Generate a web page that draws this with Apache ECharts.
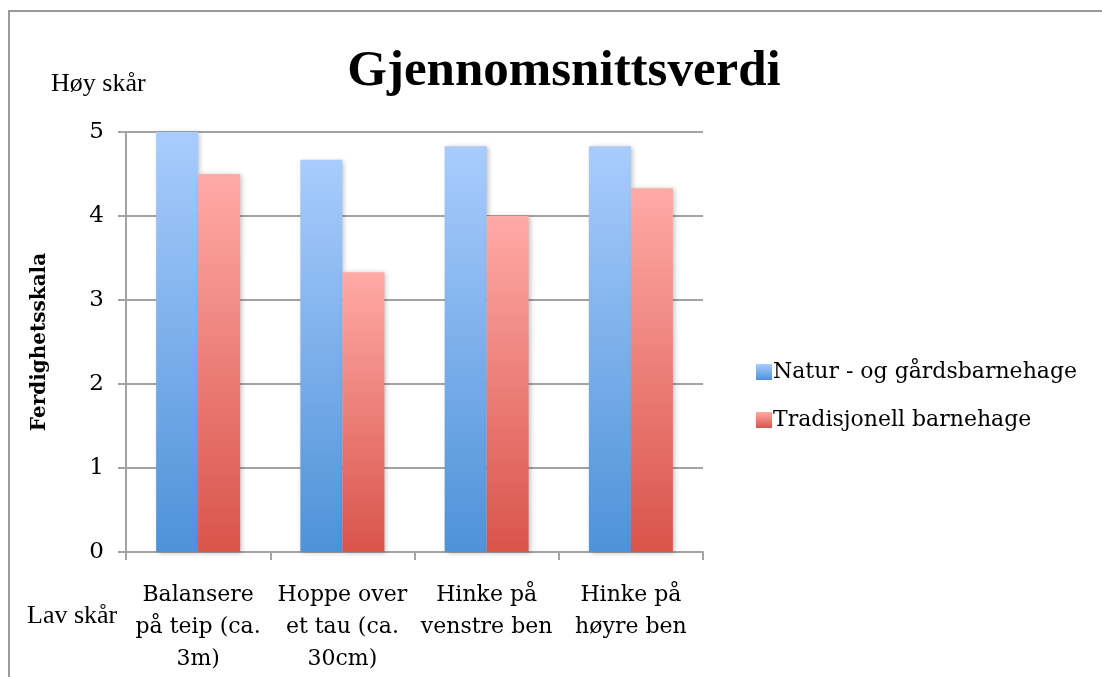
<!DOCTYPE html>
<html>
<head>
<meta charset="utf-8">
<script src="https://cdn.jsdelivr.net/npm/echarts@6/dist/echarts.min.js"></script>
<style>
html,body{margin:0;padding:0;background:#fff;}
#chart{width:1102px;height:677px;}
</style>
</head>
<body>
<div id="chart"></div>
<script>
var categories = ["Balansere\npå teip (ca.\n3m)", "Hoppe over\net tau (ca.\n30cm)", "Hinke på\nvenstre ben", "Hinke på\nhøyre ben"];
var seriesNames = ["Natur - og gårdsbarnehage", "Tradisjonell barnehage"];
var naturValues = [5, 4.67, 4.83, 4.83];
var tradValues = [4.5, 3.33, 4.0, 4.33];
var yTicks = [0, 1, 2, 3, 4, 5];

var serif = "DejaVu Serif";
var axisGray = "#a3a3a3";

function grad(top, bottom) {
  return new echarts.graphic.LinearGradient(0, 0, 0, 1, [
    {offset: 0, color: top}, {offset: 1, color: bottom}
  ]);
}

var chart = echarts.init(document.getElementById('chart'), null, {renderer: 'canvas'});
chart.setOption({
  animation: false,
  backgroundColor: '#fff',
  title: {
    text: 'Gjennomsnittsverdi',
    left: 559, top: 41, textAlign: 'center',
    textStyle: {fontFamily: 'Liberation Serif', fontWeight: 'bold', fontSize: 51, color: '#000'}
  },
  legend: {
    orient: 'vertical', left: 751, top: 356, itemGap: 26,
    itemWidth: 16, itemHeight: 16, icon: 'rect',
    data: seriesNames,
    textStyle: {fontFamily: serif, fontSize: 22, color: '#000', padding: [0,0,0,-4]}
  },
  grid: {left: 126, right: 399, top: 132, bottom: 125, containLabel: false},
  xAxis: {
    type: 'category', data: categories,
    axisLine: {lineStyle: {color: axisGray, width: 2}},
    axisTick: {show: true, length: 8, lineStyle: {color: axisGray, width: 2}},
    axisLabel: {interval: 0, margin: 27, lineHeight: 32, fontFamily: serif, fontSize: 22, color: '#000'}
  },
  yAxis: {
    type: 'value', min: 0, max: 5, interval: 1,
    name: 'Ferdighetsskala', nameLocation: 'middle', nameGap: 76, nameRotate: 90,
    nameTextStyle: {fontFamily: serif, fontWeight: 'bold', fontSize: 20, color: '#000'},
    axisLine: {show: true, lineStyle: {color: axisGray, width: 2}},
    axisTick: {show: true, length: 8, lineStyle: {color: axisGray, width: 2}},
    axisLabel: {margin: 22, fontFamily: serif, fontSize: 23, color: '#000',
      formatter: function(v){ return yTicks.indexOf(v) >= 0 ? String(v) : ''; }},
    splitLine: {lineStyle: {color: axisGray, width: 2}}
  },
  series: [
    {name: seriesNames[0], type: 'bar', data: naturValues, barWidth: 42, barGap: '0%',
     itemStyle: {color: grad('#a9ccfd', '#4e92d8'), shadowColor: 'rgba(0,0,0,0.25)', shadowBlur: 5, shadowOffsetX: 2, shadowOffsetY: 1}},
    {name: seriesNames[1], type: 'bar', data: tradValues, barWidth: 42, barGap: '0%',
     itemStyle: {color: grad('#ffaaa6', '#d9544b'), shadowColor: 'rgba(0,0,0,0.25)', shadowBlur: 5, shadowOffsetX: 2, shadowOffsetY: 1}}
  ],
  graphic: [
    {type: 'rect', shape: {x: 9, y: 11, width: 1200, height: 800}, style: {fill: 'none', stroke: '#9a9a9a', lineWidth: 2}, silent: true, z: -1},
    {type: 'text', left: 51, top: 71, style: {text: 'Høy skår', font: '26px "Liberation Serif"', fill: '#000'}},
    {type: 'text', left: 27, top: 603, style: {text: 'Lav skår', font: '26px "Liberation Serif"', fill: '#000'}}
  ]
});
</script>
</body>
</html>
